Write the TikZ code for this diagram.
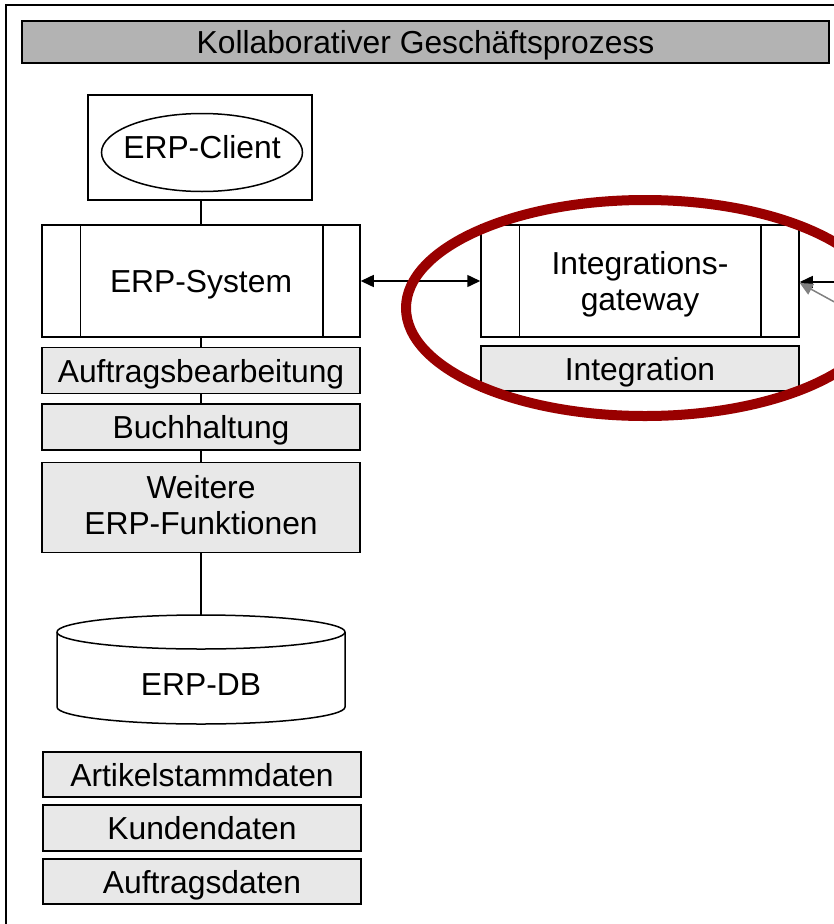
\documentclass[tikz,border=0pt]{standalone}
\usepackage{fontspec}
\setmainfont{Liberation Sans}
\usetikzlibrary{arrows.meta,shapes.geometric}
\definecolor{titlegray}{HTML}{B3B3B3}
\definecolor{boxgray}{HTML}{E8E8E8}
\definecolor{markred}{HTML}{990000}
\begin{document}
\begin{tikzpicture}[x=1pt,y=-1pt,
  font=\fontsize{31.8}{36}\selectfont,
  every node/.style={text depth=0pt},
  >={Triangle[length=13pt,width=12pt]},
  lw/.style={line width=1.5pt},
  plainbox/.style={draw, lw, fill=white, inner sep=0pt, align=center},
  sysbox/.style={plainbox, minimum width=318pt, minimum height=112pt},
  funcbox/.style={draw, lw, fill=boxgray, inner sep=0pt, align=center, minimum width=318pt},
  titlebar/.style={draw, line width=1.8pt, fill=titlegray, inner sep=0pt,
    minimum width=807pt, minimum height=42pt}]
\useasboundingbox (0,0) rectangle (834,924);
\clip (0,0) rectangle (834,924);

% outer frame (runs past the right and lower edges)
\draw[lw] (6,5) rectangle (870,960);

% title bar
\node[titlebar] (title) at (425.5,42) {Kollaborativer Geschäftsprozess};

% ERP client
\node[plainbox, minimum width=224pt, minimum height=105pt] (clientbox) at (200,147.5) {};
\node[ellipse, draw, lw, fill=white, inner sep=0pt, minimum width=201pt, minimum height=78pt]
  (client) at (202,152.5) {};
\node (clientlabel) at (202,147) {ERP-Client};

% ERP system with its function blocks
\node[sysbox] (erp) at (201,281) {ERP-System};
\draw[lw] ([xshift=39pt]erp.north west) -- ([xshift=39pt]erp.south west);
\draw[lw] ([xshift=-38pt]erp.north east) -- ([xshift=-38pt]erp.south east);
\draw[lw] (erp.north |- clientbox.south) -- (erp.north);

% database outline
\coordinate (dbtop) at (201,615);
\draw[lw] (erp.south) -- (dbtop);
\draw[lw, fill=white] (57,632) -- (57,707)
  arc[start angle=180, end angle=360, x radius=144pt, y radius=17pt]
  -- (345,632)
  arc[start angle=0, end angle=180, x radius=144pt, y radius=17pt] -- cycle;
\draw[lw] (57,632) arc[start angle=180, end angle=360, x radius=144pt, y radius=17pt];
\node (db) at (201,685) {ERP-DB};

\node[funcbox, minimum height=46pt] (auftrag) at (201,370.5) {Auftragsbearbeitung};
\node[funcbox, minimum height=46pt] (buch) at (201,427) {Buchhaltung};
\node[funcbox, minimum height=90pt] (weitere) at (201,507.5) {};
\node[align=center] (weiterelabel) at (201,505) {Weitere\\ERP-Funktionen};

% data blocks
\node[funcbox, minimum height=45pt] (artikel) at (202,774.5) {Artikelstammdaten};
\node[funcbox, minimum height=46pt] (kunden) at (202,828) {Kundendaten};
\node[funcbox, minimum height=45pt] (adaten) at (202,881.5) {Auftragsdaten};

% integration gateway
\node[sysbox] (gw) at (640,281) {Integrations-\\gateway};
\draw[lw] ([xshift=39pt]gw.north west) -- ([xshift=39pt]gw.south west);
\draw[lw] ([xshift=-39pt]gw.north east) -- ([xshift=-39pt]gw.south east);
\node[funcbox, minimum height=45pt] (integ) at (640,368.5) {Integration};

% connectors
\draw[lw, <->] (erp.east) -- (gw.west);
\coordinate (rin) at (860,282);
\draw[lw, ->] (rin) -- ([yshift=-1pt]gw.east);
\coordinate (gin) at (860,316);
\draw[gray, line width=1.5pt, ->] (gin) -- ([yshift=-2pt]gw.east);

% highlight
\draw[markred, line width=10pt] (645,308) ellipse [x radius=239pt, y radius=108pt];
\end{tikzpicture}
\end{document}
